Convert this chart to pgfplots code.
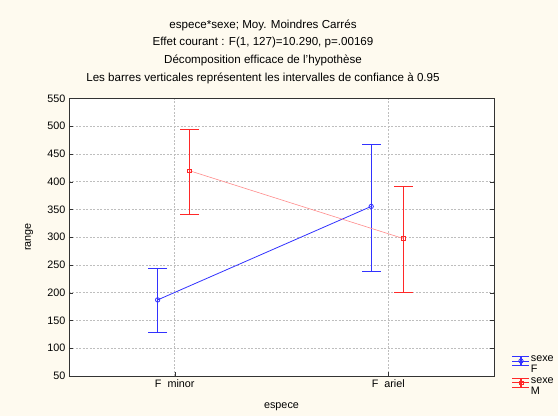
\documentclass[border=0pt]{standalone}
\usepackage{pgfplots}
\pgfplotsset{compat=1.18}
\usepackage{fontspec}
\setmainfont{Liberation Sans}
\definecolor{bgcream}{RGB}{254,250,239}
\definecolor{serF}{RGB}{50,50,255}
\definecolor{serM}{RGB}{255,40,40}
\definecolor{serMline}{RGB}{255,140,140}
\definecolor{gridgray}{RGB}{190,190,190}

% legend symbol: line + caps + centre mark (#1 = colour)
\pgfplotsset{
  errlegend/.style={
    legend image code/.code={
      \begin{scope}[yshift=4pt]
      \draw[draw=#1, line width=0.8pt] (0pt,0pt) -- (17pt,0pt);
      \draw[draw=#1, line width=0.8pt] (0pt,4.5pt) -- (17pt,4.5pt);
      \draw[draw=#1, line width=0.8pt] (0pt,-4.5pt) -- (17pt,-4.5pt);
      \draw[draw=#1, line width=1.3pt] (8.5pt,-4.5pt) -- (8.5pt,4.5pt);
      \draw[##1,only marks] plot coordinates {(8.5pt,0pt)};
      \end{scope}
    }
  },
  cibar/.style={#1, line width=1.3pt, mark=-, mark size=9.5pt,
    mark options={solid, line width=0.9pt}, forget plot},
}

\begin{document}
\begin{tikzpicture}
\fill[bgcream] (0,0) rectangle (558pt,416pt);

\begin{scope}[font=\fontsize{11.6}{13}\selectfont]
\node at (263pt,391pt) {espece*sexe; Moy. Moindres Carrés};
\node at (263pt,373.7pt) {Effet courant : F(1, 127)=10.290, p=.00169};
\node at (263pt,355.3pt) {Décomposition efficace de l'hypothèse};
\node at (263pt,337.7pt) {Les barres verticales représentent les intervalles de confiance à 0.95};
\end{scope}

\begin{axis}[
    at={(69pt,40pt)}, anchor=south west,
    scale only axis,
    width=425pt, height=277.7pt,
    axis background/.style={fill=white},
    axis line style={black!80, line width=0.8pt},
    xmin=-0.495, xmax=1.495,
    ymin=50, ymax=550,
    xtick={0,1},
    xticklabels={F\ \ minor, F\ \ ariel},
    ytick={50,100,...,550},
    xtick pos=bottom,
    ytick pos=both,
    tick align=inside,
    major tick length=4pt,
    tick style={black!80},
    xmajorgrids, ymajorgrids,
    grid style={gridgray, dash pattern=on 2pt off 1.5pt, line width=0.5pt},
    ticklabel style={font=\fontsize{10.8}{12}\selectfont},
    /pgf/number format/assume math mode=true,
    xlabel={espece},
    ylabel={range},
    xlabel style={at={(axis description cs:0.5,-0.112)}, anchor=center},
    ylabel style={at={(axis description cs:-0.094,0.5)}, anchor=center},
    label style={font=\fontsize{10.8}{12}\selectfont},
    legend style={at={(1.035,0.085)}, anchor=north west, draw=none, fill=none,
      nodes={align=left, inner sep=1pt, font=\fontsize{10.8}{11.5}\selectfont},
      row sep=1pt},
    legend cell align=left,
  ]
  % confidence intervals (0.95), lower and upper ends
  \addplot[cibar=serF] coordinates {(-0.08,128.0) (-0.08,243.6)};
  \addplot[cibar=serF] coordinates {(0.92,237.5) (0.92,467.6)};
  \addplot[cibar=serM] coordinates {(0.07,341.0) (0.07,493.5)};
  \addplot[cibar=serM] coordinates {(1.07,201.0) (1.07,391.4)};

  % means (x = 0 F minor, 1 F ariel, shifted per sex)
  \addplot[color=serF, line width=0.8pt, mark=o, mark size=2.2pt,
    mark options={solid, fill=white}, errlegend=serF]
    coordinates {(-0.08,187.0) (0.92,355.3)};
  \addlegendentry{sexe\\F}

  \addplot[color=serMline, line width=0.6pt, mark=square, mark size=1.9pt,
    mark options={color=serM, solid, fill=white, line width=0.7pt},
    errlegend=serM]
    coordinates {(0.07,419.5) (1.07,297.6)};
  \addlegendentry{sexe\\M}
\end{axis}
\end{tikzpicture}
\end{document}
